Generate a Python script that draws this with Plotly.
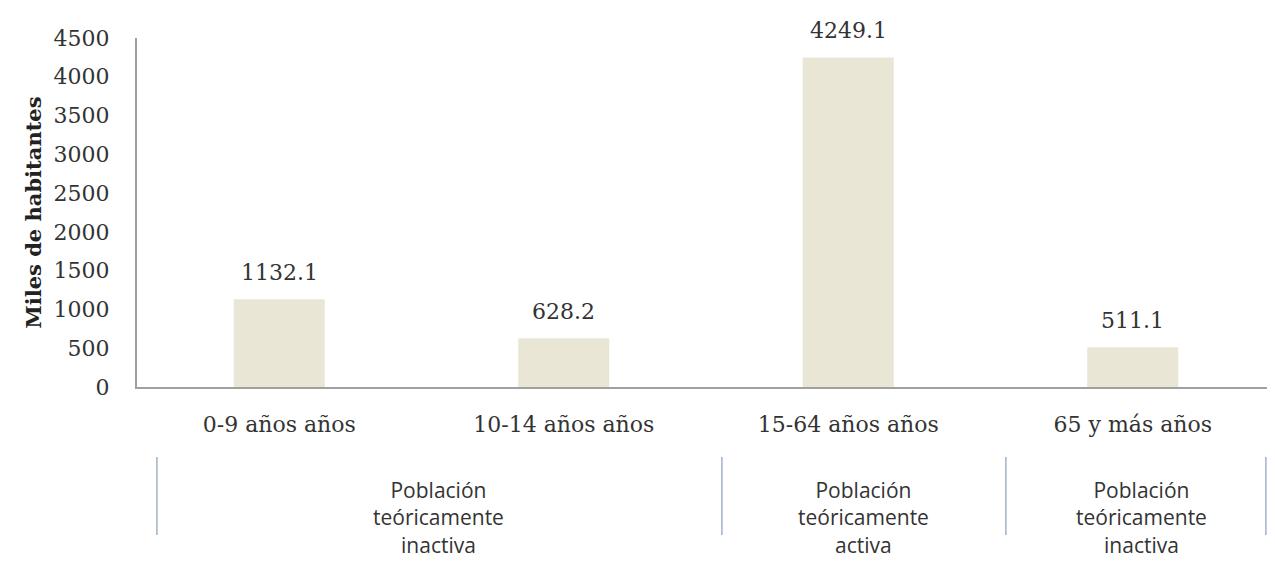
import plotly.graph_objects as go

categories = ["0-9 años años", "10-14 años años", "15-64 años años", "65 y más años"]
values = [1132.1, 628.2, 4249.1, 511.1]
value_labels = ["1132.1", "628.2", "4249.1", "511.1"]
tick_vals = [0, 500, 1000, 1500, 2000, 2500, 3000, 3500, 4000, 4500]

group_labels = ["Población<br>teóricamente<br>inactiva",
                "Población<br>teóricamente<br>activa",
                "Población<br>teóricamente<br>inactiva"]
group_centers = [0.558, 2.055, 3.032]
group_separators = [-0.43, 1.556, 2.554, 3.468]

serif = "DejaVu Serif"
sans = "Open Sans"

fig = go.Figure()
fig.add_trace(go.Bar(
    x=list(range(len(categories))), y=values,
    marker=dict(color="#EAE6D6", line=dict(width=0)),
    width=0.32, hoverinfo="skip",
))

for i, (v, t) in enumerate(zip(values, value_labels)):
    fig.add_annotation(x=i, y=v, text=t, showarrow=False, xref="x", yref="y",
                       yanchor="bottom", yshift=12,
                       font=dict(family=serif, size=22, color="#333333"))

for c, t in zip(group_centers, group_labels):
    fig.add_annotation(x=c, y=-0.25, text=t, showarrow=False, xref="x", yref="paper",
                       yanchor="top", align="center",
                       font=dict(family=sans, size=21, color="#333333"))

for s in group_separators:
    fig.add_shape(type="line", xref="x", yref="paper", x0=s, x1=s, y0=-0.2006, y1=-0.424,
                  line=dict(color="#9fb3c8", width=1.5))

fig.update_layout(
    width=1275, height=563,
    margin=dict(l=129, r=8, t=30, b=184),
    paper_bgcolor="white", plot_bgcolor="white",
    showlegend=False,
    xaxis=dict(range=[-0.5, 3.5], tickmode="array", tickvals=list(range(len(categories))),
               ticktext=categories, showgrid=False, zeroline=False,
               showline=True, linecolor="#a0a0a0", linewidth=2, ticks="",
               ticklabelstandoff=17,
               tickfont=dict(family=serif, size=22, color="#333333")),
    yaxis=dict(range=[0, 4500], tickmode="array", tickvals=tick_vals,
               showgrid=False, zeroline=False, showline=True, linecolor="#a0a0a0",
               linewidth=2, ticks="", ticklabelstandoff=21,
               tickfont=dict(family=serif, size=22, color="#333333"),
               title=dict(text="<b>Miles de habitantes</b>", standoff=6,
                          font=dict(family=serif, size=21, color="#222222"))),
)

fig.write_html("out.html")
